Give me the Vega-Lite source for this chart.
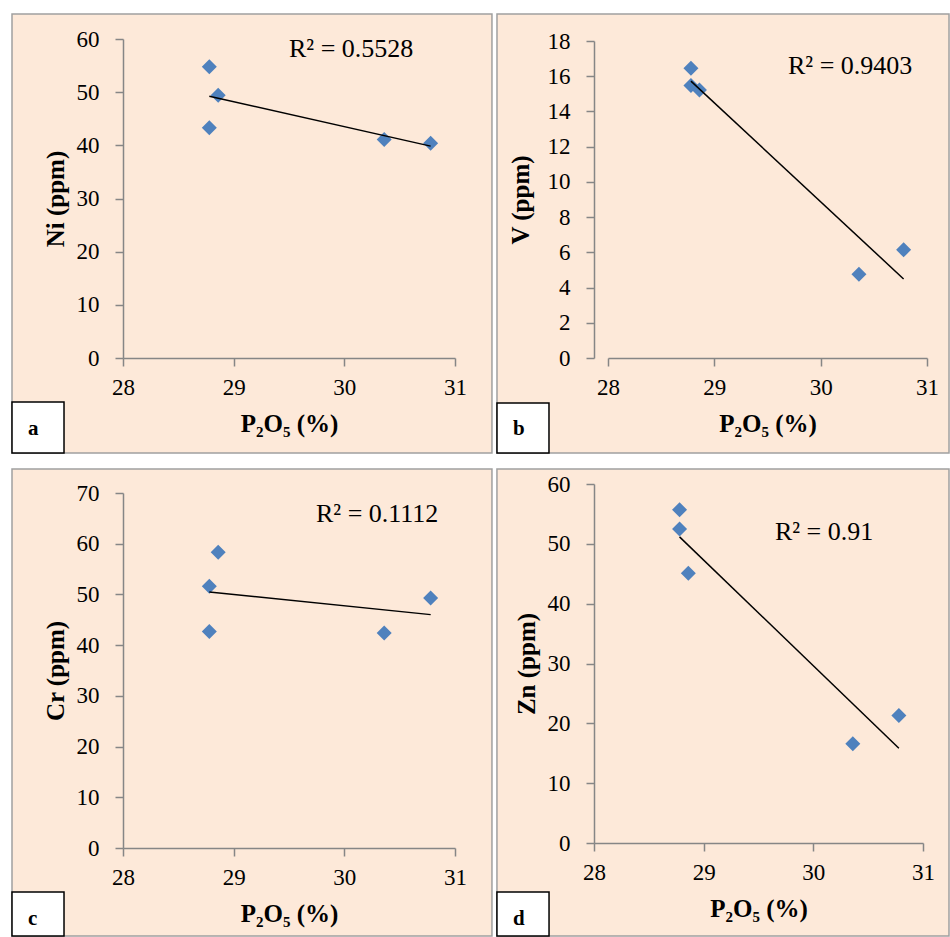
{
  "$schema": "https://vega.github.io/schema/vega-lite/v6.json",
  "background": "white",
  "padding": {"left": 11, "top": 13, "right": 0, "bottom": 0},
  "data": {"values": [
    {"p": 28.78, "ni": 54.8, "v": 16.45, "cr": 51.6, "zn": 55.7},
    {"p": 28.78, "ni": 43.3, "v": 15.48, "cr": 42.7, "zn": 52.5},
    {"p": 28.86, "ni": 49.4, "v": 15.22, "cr": 58.3, "zn": 45.1},
    {"p": 30.36, "ni": 41.1, "v": 4.76, "cr": 42.4, "zn": 16.6},
    {"p": 30.78, "ni": 40.4, "v": 6.14, "cr": 49.3, "zn": 21.3}
  ]},
  "columns": 2,
  "spacing": {"row": 126, "column": 139},
  "bounds": "flush",
  "concat": [
    {
      "width": 332, "height": 319,
      "layer": [
        {"data": {"values": [{}]}, "mark": {"type": "rect", "fill": "#FDE9D9", "stroke": "#A0A0A0", "strokeWidth": 1.5},
         "encoding": {"x": {"datum": 26.997, "axis": {"values": [28, 29, 30, 31], "format": "d", "title": "P₂O₅ (%)", "zindex": 2, "labelFont": "Liberation Serif", "labelFontSize": 23}}, "x2": {"datum": 31.334},
                      "y": {"datum": 64.70, "axis": {"values": [0, 10, 20, 30, 40, 50, 60], "format": "d", "title": "Ni (ppm)", "zindex": 2, "labelFont": "Liberation Serif", "labelFontSize": 23}}, "y2": {"datum": -17.87}}},
        {"data": {"values": [{}]}, "mark": {"type": "rect", "fill": "white", "stroke": "black", "strokeWidth": 1.5},
         "encoding": {"x": {"datum": 26.997, "axis": {"values": [28, 29, 30, 31], "format": "d", "title": "P₂O₅ (%)", "zindex": 2, "labelFont": "Liberation Serif", "labelFontSize": 23}}, "x2": {"datum": 27.467},
                      "y": {"datum": -8.276, "axis": {"values": [0, 10, 20, 30, 40, 50, 60], "format": "d", "title": "Ni (ppm)", "zindex": 2, "labelFont": "Liberation Serif", "labelFontSize": 23}}, "y2": {"datum": -17.87}}},
        {"data": {"values": [{"label": "a"}]}, "mark": {"type": "text", "align": "left", "baseline": "alphabetic", "fontSize": 21, "fontWeight": "bold", "font": "Liberation Serif"},
         "encoding": {"text": {"field": "label"},
                      "x": {"datum": 27.142, "axis": {"values": [28, 29, 30, 31], "format": "d", "title": "P₂O₅ (%)", "zindex": 2, "labelFont": "Liberation Serif", "labelFontSize": 23}},
                      "y": {"datum": -14.48, "axis": {"values": [0, 10, 20, 30, 40, 50, 60], "format": "d", "title": "Ni (ppm)", "zindex": 2, "labelFont": "Liberation Serif", "labelFontSize": 23}}}},
        {"mark": {"type": "point", "shape": "diamond", "filled": true, "size": 225, "color": "#4F81BD", "opacity": 1},
         "encoding": {
           "x": {"field": "p", "type": "quantitative", "scale": {"domain": [28, 31], "nice": false, "zero": false}, "axis": {"values": [28, 29, 30, 31], "format": "d", "title": "P₂O₅ (%)", "zindex": 2, "labelFont": "Liberation Serif", "labelFontSize": 23}},
           "y": {"field": "ni", "type": "quantitative", "scale": {"domain": [0, 60], "nice": false}, "axis": {"values": [0, 10, 20, 30, 40, 50, 60], "format": "d", "title": "Ni (ppm)", "zindex": 2, "labelFont": "Liberation Serif", "labelFontSize": 23}}}},
        {"transform": [{"regression": "ni", "on": "p"}], "mark": {"type": "line", "color": "black", "strokeWidth": 1.5},
         "encoding": {"x": {"field": "p", "type": "quantitative", "axis": {"values": [28, 29, 30, 31], "format": "d", "title": "P₂O₅ (%)", "zindex": 2, "labelFont": "Liberation Serif", "labelFontSize": 23}},
                      "y": {"field": "ni", "type": "quantitative", "axis": {"values": [0, 10, 20, 30, 40, 50, 60], "format": "d", "title": "Ni (ppm)", "zindex": 2, "labelFont": "Liberation Serif", "labelFontSize": 23}}}},
        {"data": {"values": [{"label": "R² = 0.5528"}]}, "mark": {"type": "text", "align": "left", "baseline": "alphabetic", "fontSize": 26, "font": "Liberation Serif"},
         "encoding": {"text": {"field": "label"},
                      "x": {"datum": 29.5, "axis": {"values": [28, 29, 30, 31], "format": "d", "title": "P₂O₅ (%)", "zindex": 2, "labelFont": "Liberation Serif", "labelFontSize": 23}},
                      "y": {"datum": 56.61, "axis": {"values": [0, 10, 20, 30, 40, 50, 60], "format": "d", "title": "Ni (ppm)", "zindex": 2, "labelFont": "Liberation Serif", "labelFontSize": 23}}}}
      ]
    },
    {
      "width": 333, "height": 319,
      "layer": [
        {"data": {"values": [{}]}, "mark": {"type": "rect", "fill": "#FDE9D9", "stroke": "#A0A0A0", "strokeWidth": 1.5},
         "encoding": {"x": {"datum": 26.956, "axis": {"values": [28, 29, 30, 31], "format": "d", "title": "P₂O₅ (%)", "zindex": 2, "labelFont": "Liberation Serif", "labelFontSize": 23}}, "x2": {"datum": 31.207},
                      "y": {"datum": 19.53, "axis": {"values": [0, 2, 4, 6, 8, 10, 12, 14, 16, 18], "format": "d", "title": "V (ppm)", "zindex": 2, "titlePadding": 14, "labelFont": "Liberation Serif", "labelFontSize": 23}}, "y2": {"datum": -5.394}}},
        {"data": {"values": [{}]}, "mark": {"type": "rect", "fill": "white", "stroke": "black", "strokeWidth": 1.5},
         "encoding": {"x": {"datum": 26.956, "axis": {"values": [28, 29, 30, 31], "format": "d", "title": "P₂O₅ (%)", "zindex": 2, "labelFont": "Liberation Serif", "labelFontSize": 23}}, "x2": {"datum": 27.445},
                      "y": {"datum": -2.555, "axis": {"values": [0, 2, 4, 6, 8, 10, 12, 14, 16, 18], "format": "d", "title": "V (ppm)", "zindex": 2, "titlePadding": 14, "labelFont": "Liberation Serif", "labelFontSize": 23}}, "y2": {"datum": -5.394}}},
        {"data": {"values": [{"label": "b"}]}, "mark": {"type": "text", "align": "left", "baseline": "alphabetic", "fontSize": 21, "fontWeight": "bold", "font": "Liberation Serif"},
         "encoding": {"text": {"field": "label"},
                      "x": {"datum": 27.107, "axis": {"values": [28, 29, 30, 31], "format": "d", "title": "P₂O₅ (%)", "zindex": 2, "labelFont": "Liberation Serif", "labelFontSize": 23}},
                      "y": {"datum": -4.372, "axis": {"values": [0, 2, 4, 6, 8, 10, 12, 14, 16, 18], "format": "d", "title": "V (ppm)", "zindex": 2, "titlePadding": 14, "labelFont": "Liberation Serif", "labelFontSize": 23}}}},
        {"mark": {"type": "point", "shape": "diamond", "filled": true, "size": 225, "color": "#4F81BD", "opacity": 1},
         "encoding": {
           "x": {"field": "p", "type": "quantitative", "scale": {"domain": [28, 31], "nice": false, "zero": false, "range": [14, 333]}, "axis": {"values": [28, 29, 30, 31], "format": "d", "title": "P₂O₅ (%)", "zindex": 2, "labelFont": "Liberation Serif", "labelFontSize": 23}},
           "y": {"field": "v", "type": "quantitative", "scale": {"domain": [0, 18], "nice": false, "range": [319, 2]}, "axis": {"values": [0, 2, 4, 6, 8, 10, 12, 14, 16, 18], "format": "d", "title": "V (ppm)", "zindex": 2, "titlePadding": 14, "labelFont": "Liberation Serif", "labelFontSize": 23}}}},
        {"transform": [{"regression": "v", "on": "p"}], "mark": {"type": "line", "color": "black", "strokeWidth": 1.5},
         "encoding": {"x": {"field": "p", "type": "quantitative", "axis": {"values": [28, 29, 30, 31], "format": "d", "title": "P₂O₅ (%)", "zindex": 2, "labelFont": "Liberation Serif", "labelFontSize": 23}},
                      "y": {"field": "v", "type": "quantitative", "axis": {"values": [0, 2, 4, 6, 8, 10, 12, 14, 16, 18], "format": "d", "title": "V (ppm)", "zindex": 2, "titlePadding": 14, "labelFont": "Liberation Serif", "labelFontSize": 23}}}},
        {"data": {"values": [{"label": "R² = 0.9403"}]}, "mark": {"type": "text", "align": "left", "baseline": "alphabetic", "fontSize": 26, "font": "Liberation Serif"},
         "encoding": {"text": {"field": "label"},
                      "x": {"datum": 29.693, "axis": {"values": [28, 29, 30, 31], "format": "d", "title": "P₂O₅ (%)", "zindex": 2, "labelFont": "Liberation Serif", "labelFontSize": 23}},
                      "y": {"datum": 16.126, "axis": {"values": [0, 2, 4, 6, 8, 10, 12, 14, 16, 18], "format": "d", "title": "V (ppm)", "zindex": 2, "titlePadding": 14, "labelFont": "Liberation Serif", "labelFontSize": 23}}}}
      ]
    },
    {
      "width": 332, "height": 364,
      "layer": [
        {"data": {"values": [{}]}, "mark": {"type": "rect", "fill": "#FDE9D9", "stroke": "#A0A0A0", "strokeWidth": 1.5},
         "encoding": {"x": {"datum": 26.997, "axis": {"values": [28, 29, 30, 31], "format": "d", "title": "P₂O₅ (%)", "zindex": 2, "labelFont": "Liberation Serif", "labelFontSize": 23}}, "x2": {"datum": 31.334},
                      "y": {"datum": 74.73, "axis": {"values": [0, 10, 20, 30, 40, 50, 60, 70], "format": "d", "title": "Cr (ppm)", "zindex": 2, "labelFont": "Liberation Serif", "labelFontSize": 23}}, "y2": {"datum": -17.35}}},
        {"data": {"values": [{}]}, "mark": {"type": "rect", "fill": "white", "stroke": "black", "strokeWidth": 1.5},
         "encoding": {"x": {"datum": 26.997, "axis": {"values": [28, 29, 30, 31], "format": "d", "title": "P₂O₅ (%)", "zindex": 2, "labelFont": "Liberation Serif", "labelFontSize": 23}}, "x2": {"datum": 27.467},
                      "y": {"datum": -8.676, "axis": {"values": [0, 10, 20, 30, 40, 50, 60, 70], "format": "d", "title": "Cr (ppm)", "zindex": 2, "labelFont": "Liberation Serif", "labelFontSize": 23}}, "y2": {"datum": -17.35}}},
        {"data": {"values": [{"label": "c"}]}, "mark": {"type": "text", "align": "left", "baseline": "alphabetic", "fontSize": 21, "fontWeight": "bold", "font": "Liberation Serif"},
         "encoding": {"text": {"field": "label"},
                      "x": {"datum": 27.142, "axis": {"values": [28, 29, 30, 31], "format": "d", "title": "P₂O₅ (%)", "zindex": 2, "labelFont": "Liberation Serif", "labelFontSize": 23}},
                      "y": {"datum": -15.18, "axis": {"values": [0, 10, 20, 30, 40, 50, 60, 70], "format": "d", "title": "Cr (ppm)", "zindex": 2, "labelFont": "Liberation Serif", "labelFontSize": 23}}}},
        {"mark": {"type": "point", "shape": "diamond", "filled": true, "size": 225, "color": "#4F81BD", "opacity": 1},
         "encoding": {
           "x": {"field": "p", "type": "quantitative", "scale": {"domain": [28, 31], "nice": false, "zero": false}, "axis": {"values": [28, 29, 30, 31], "format": "d", "title": "P₂O₅ (%)", "zindex": 2, "labelFont": "Liberation Serif", "labelFontSize": 23}},
           "y": {"field": "cr", "type": "quantitative", "scale": {"domain": [0, 70], "nice": false, "range": [364, 9]}, "axis": {"values": [0, 10, 20, 30, 40, 50, 60, 70], "format": "d", "title": "Cr (ppm)", "zindex": 2, "labelFont": "Liberation Serif", "labelFontSize": 23}}}},
        {"transform": [{"regression": "cr", "on": "p"}], "mark": {"type": "line", "color": "black", "strokeWidth": 1.5},
         "encoding": {"x": {"field": "p", "type": "quantitative", "axis": {"values": [28, 29, 30, 31], "format": "d", "title": "P₂O₅ (%)", "zindex": 2, "labelFont": "Liberation Serif", "labelFontSize": 23}},
                      "y": {"field": "cr", "type": "quantitative", "axis": {"values": [0, 10, 20, 30, 40, 50, 60, 70], "format": "d", "title": "Cr (ppm)", "zindex": 2, "labelFont": "Liberation Serif", "labelFontSize": 23}}}},
        {"data": {"values": [{"label": "R² = 0.1112"}]}, "mark": {"type": "text", "align": "left", "baseline": "alphabetic", "fontSize": 26, "font": "Liberation Serif"},
         "encoding": {"text": {"field": "label"},
                      "x": {"datum": 29.744, "axis": {"values": [28, 29, 30, 31], "format": "d", "title": "P₂O₅ (%)", "zindex": 2, "labelFont": "Liberation Serif", "labelFontSize": 23}},
                      "y": {"datum": 64.28, "axis": {"values": [0, 10, 20, 30, 40, 50, 60, 70], "format": "d", "title": "Cr (ppm)", "zindex": 2, "labelFont": "Liberation Serif", "labelFontSize": 23}}}}
      ]
    },
    {
      "width": 329, "height": 359,
      "layer": [
        {"data": {"values": [{}]}, "mark": {"type": "rect", "fill": "#FDE9D9", "stroke": "#A0A0A0", "strokeWidth": 1.5},
         "encoding": {"x": {"datum": 27.115, "axis": {"values": [28, 29, 30, 31], "format": "d", "title": "P₂O₅ (%)", "zindex": 2, "labelFont": "Liberation Serif", "labelFontSize": 23}}, "x2": {"datum": 31.237},
                      "y": {"datum": 62.51, "axis": {"values": [0, 10, 20, 30, 40, 50, 60], "format": "d", "title": "Zn (ppm)", "zindex": 2, "labelFont": "Liberation Serif", "labelFontSize": 23}}, "y2": {"datum": -15.54}}},
        {"data": {"values": [{}]}, "mark": {"type": "rect", "fill": "white", "stroke": "black", "strokeWidth": 1.5},
         "encoding": {"x": {"datum": 27.115, "axis": {"values": [28, 29, 30, 31], "format": "d", "title": "P₂O₅ (%)", "zindex": 2, "labelFont": "Liberation Serif", "labelFontSize": 23}}, "x2": {"datum": 27.590},
                      "y": {"datum": -8.19, "axis": {"values": [0, 10, 20, 30, 40, 50, 60], "format": "d", "title": "Zn (ppm)", "zindex": 2, "labelFont": "Liberation Serif", "labelFontSize": 23}}, "y2": {"datum": -15.54}}},
        {"data": {"values": [{"label": "d"}]}, "mark": {"type": "text", "align": "left", "baseline": "alphabetic", "fontSize": 21, "fontWeight": "bold", "font": "Liberation Serif"},
         "encoding": {"text": {"field": "label"},
                      "x": {"datum": 27.261, "axis": {"values": [28, 29, 30, 31], "format": "d", "title": "P₂O₅ (%)", "zindex": 2, "labelFont": "Liberation Serif", "labelFontSize": 23}},
                      "y": {"datum": -13.70, "axis": {"values": [0, 10, 20, 30, 40, 50, 60], "format": "d", "title": "Zn (ppm)", "zindex": 2, "labelFont": "Liberation Serif", "labelFontSize": 23}}}},
        {"mark": {"type": "point", "shape": "diamond", "filled": true, "size": 225, "color": "#4F81BD", "opacity": 1},
         "encoding": {
           "x": {"field": "p", "type": "quantitative", "scale": {"domain": [28, 31], "nice": false, "zero": false}, "axis": {"values": [28, 29, 30, 31], "format": "d", "title": "P₂O₅ (%)", "zindex": 2, "labelFont": "Liberation Serif", "labelFontSize": 23}},
           "y": {"field": "zn", "type": "quantitative", "scale": {"domain": [0, 60], "nice": false}, "axis": {"values": [0, 10, 20, 30, 40, 50, 60], "format": "d", "title": "Zn (ppm)", "zindex": 2, "labelFont": "Liberation Serif", "labelFontSize": 23}}}},
        {"transform": [{"regression": "zn", "on": "p"}], "mark": {"type": "line", "color": "black", "strokeWidth": 1.5},
         "encoding": {"x": {"field": "p", "type": "quantitative", "axis": {"values": [28, 29, 30, 31], "format": "d", "title": "P₂O₅ (%)", "zindex": 2, "labelFont": "Liberation Serif", "labelFontSize": 23}},
                      "y": {"field": "zn", "type": "quantitative", "axis": {"values": [0, 10, 20, 30, 40, 50, 60], "format": "d", "title": "Zn (ppm)", "zindex": 2, "labelFont": "Liberation Serif", "labelFontSize": 23}}}},
        {"data": {"values": [{"label": "R² = 0.91"}]}, "mark": {"type": "text", "align": "left", "baseline": "alphabetic", "fontSize": 26, "font": "Liberation Serif"},
         "encoding": {"text": {"field": "label"},
                      "x": {"datum": 29.650, "axis": {"values": [28, 29, 30, 31], "format": "d", "title": "P₂O₅ (%)", "zindex": 2, "labelFont": "Liberation Serif", "labelFontSize": 23}},
                      "y": {"datum": 50.64, "axis": {"values": [0, 10, 20, 30, 40, 50, 60], "format": "d", "title": "Zn (ppm)", "zindex": 2, "labelFont": "Liberation Serif", "labelFontSize": 23}}}}
      ]
    }
  ],
  "config": {
    "view": {"stroke": null},
    "font": "Liberation Serif",
    "axis": {"domainColor": "#868686", "domainWidth": 1.5, "tickColor": "#868686", "tickWidth": 1.5, "tickSize": 8, "grid": false,
             "labelFont": "Liberation Serif", "labelFontSize": 23, "labelColor": "#000000", "labelFlush": false, "labelOverlap": false,
             "titleFont": "Liberation Serif", "titleFontSize": 25, "titleFontWeight": "bold", "titleColor": "#000000"},
    "axisX": {"labelPadding": 10, "titlePadding": 12},
    "axisY": {"labelPadding": 16, "titlePadding": 8}
  }
}
